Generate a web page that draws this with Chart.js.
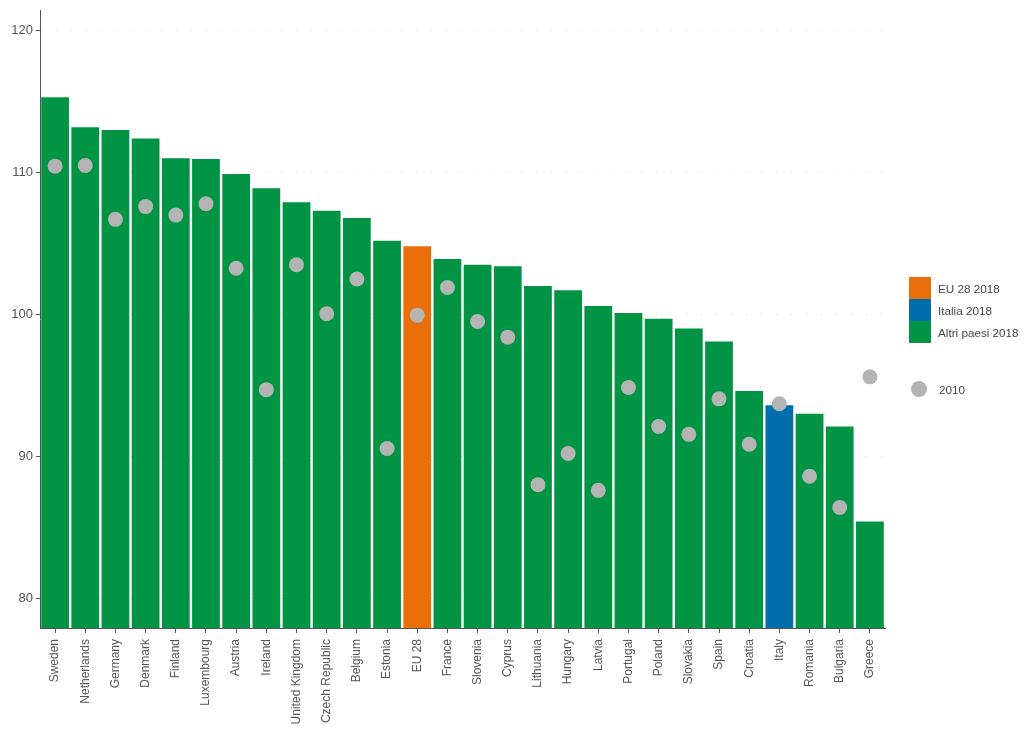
<!DOCTYPE html>
<html>
<head>
<meta charset="utf-8">
<script src="https://cdn.jsdelivr.net/npm/chart.js@4.4.1/dist/chart.umd.min.js"></script>
<style>
  body { margin: 0; background: #fff; font-family: Arial, "Liberation Sans", sans-serif; }
  #wrap { position: relative; width: 1024px; height: 738px; }
  #legend { position: absolute; left: 909px; top: 277px; font: 11.7px Arial, "Liberation Sans", sans-serif; color: #444; }
  .row { display: flex; align-items: center; height: 22px; }
  .sw { width: 22px; height: 22px; margin-right: 7px; }
  .dot { width: 16px; height: 16px; border-radius: 50%; background: #b4b4b4; margin: 0 12px 0 2px; }
</style>
</head>
<body>
<div id="wrap">
  <canvas id="c" width="1024" height="738"></canvas>
  <div id="legend">
    <div class="row"><div class="sw" style="background:#ea6f0b"></div>EU 28 2018</div>
    <div class="row"><div class="sw" style="background:#006eaa"></div>Italia 2018</div>
    <div class="row"><div class="sw" style="background:#009444"></div>Altri paesi 2018</div>
    <div class="row" style="margin-top:35px"><div class="dot"></div>2010</div>
  </div>
</div>
<script>
const countries = ['Sweden', 'Netherlands', 'Germany', 'Denmark', 'Finland', 'Luxembourg', 'Austria', 'Ireland',
  'United Kingdom', 'Czech Republic', 'Belgium', 'Estonia', 'EU 28', 'France', 'Slovenia', 'Cyprus', 'Lithuania',
  'Hungary', 'Latvia', 'Portugal', 'Poland', 'Slovakia', 'Spain', 'Croatia', 'Italy', 'Romania', 'Bulgaria', 'Greece'];
const values2018 = [115.3, 113.2, 113.0, 112.4, 111.0, 110.95, 109.9, 108.9, 107.9, 107.3, 106.8, 105.2, 104.8,
  103.9, 103.5, 103.4, 102.0, 101.7, 100.6, 100.1, 99.7, 99.0, 98.1, 94.6, 93.6, 93.0, 92.1, 85.4];
const values2010 = [110.45, 110.5, 106.7, 107.6, 107.0, 107.8, 103.25, 94.7, 103.5, 100.05, 102.5, 90.55, 99.95,
  101.9, 99.5, 98.4, 88.0, 90.2, 87.6, 94.85, 92.1, 91.55, 94.05, 90.85, 93.7, 88.6, 86.4, 95.6];
const yTicks = [80, 90, 100, 110, 120];

const barColor = name => name === 'EU 28' ? '#ea6f0b' : name === 'Italy' ? '#006eaa' : '#009444';

new Chart(document.getElementById('c'), {
  data: {
    labels: countries,
    datasets: [
      {
        type: 'line',
        label: '2010',
        data: values2010,
        showLine: false,
        pointRadius: 7.5,
        pointBackgroundColor: '#b4b4b4',
        pointBorderWidth: 0,
        order: 0
      },
      {
        type: 'bar',
        label: '2018',
        data: values2018,
        backgroundColor: countries.map(barColor),
        barPercentage: 0.92,
        categoryPercentage: 1,
        base: 77.9,
        order: 1
      }
    ]
  },
  options: {
    responsive: false,
    animation: false,
    layout: { padding: { top: 7, right: 139, left: 0, bottom: 0 } },
    plugins: { legend: { display: false }, tooltip: { enabled: false } },
    scales: {
      x: {
        offset: true,
        grid: { offset: false, drawOnChartArea: false, tickLength: 5, color: '#555' },
        border: { color: '#555' },
        ticks: {
          minRotation: 90, maxRotation: 90, autoSkip: false,
          color: '#555', padding: 6,
          font: { family: 'Liberation Sans', size: 12 }
        },
        afterFit: s => { s.height = 110; }
      },
      y: {
        min: 77.9,
        max: 121.4,
        afterBuildTicks: s => { s.ticks = yTicks.map(v => ({ value: v })); },
        grid: {
          color: 'rgba(0,0,0,0.15)',
          tickColor: '#555',
          tickBorderDash: [],
          tickLength: 4
        },
        border: { color: '#555', dash: [1, 14] },
        ticks: {
          color: '#555', padding: 3,
          font: { family: 'Liberation Sans', size: 13 }
        },
        afterFit: s => { s.width = 40; }
      }
    }
  }
});
</script>
</body>
</html>
